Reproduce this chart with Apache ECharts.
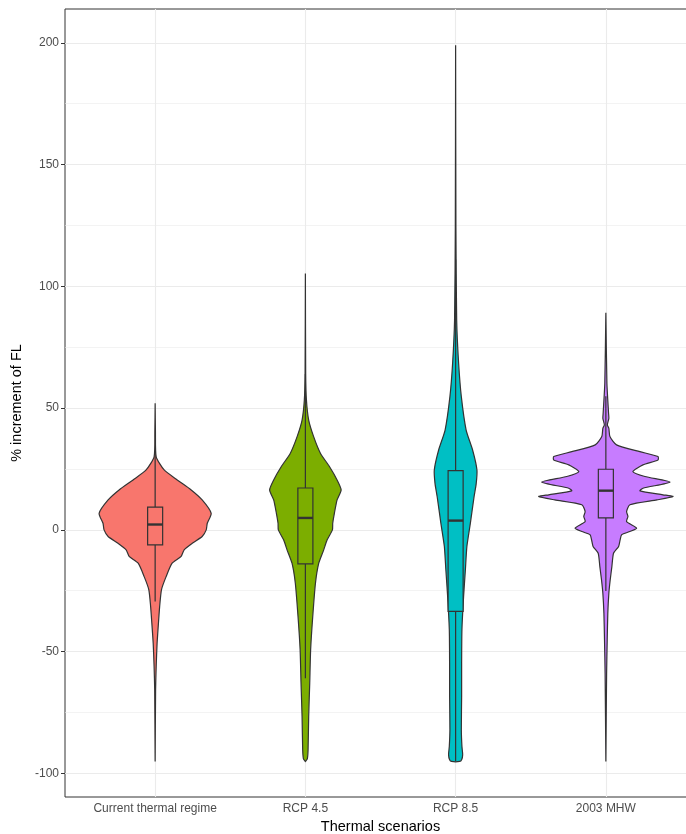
<!DOCTYPE html>
<html>
<head>
<meta charset="utf-8">
<script src="https://cdn.jsdelivr.net/npm/echarts@6/dist/echarts.min.js"></script>
<style>
html,body{margin:0;padding:0;background:#fff;}
#chart{width:686px;height:834px;}
</style>
</head>
<body>
<div id="chart"></div>
<script>
// ---- data ----
const categories = ['Current thermal regime', 'RCP 4.5', 'RCP 8.5', '2003 MHW'];
const fillColors = ['#F8766D', '#7CAE00', '#00BFC4', '#C77CFF'];
const yTicks = [-100, -50, 0, 50, 100, 150, 200];
const yMinorGrid = [-75, -25, 25, 75, 125, 175];

// violin profiles: y levels (top -> bottom) and half-widths (x-axis units)
const currentY  = [52, 40, 30, 24.6, 20.5, 16.4, 12.3, 6.8, 2.7, 0, -2.7, -5.5, -8.2, -10.9, -13.7, -19.2, -24.6, -31.5, -38.3, -46.5, -56, -65.6, -95.1];
const currentW  = [0, 0.002, 0.007, 0.06, 0.147, 0.24, 0.313, 0.373, 0.347, 0.34, 0.313, 0.247, 0.193, 0.173, 0.113, 0.073, 0.042, 0.03, 0.022, 0.013, 0.007, 0.003, 0];

const rcp45Y = [105.3, 64, 53.3, 45.1, 38.3, 31.5, 26, 20.5, 16.4, 12.3, 6.8, 2.7, 0, -4.1, -8.2, -13.7, -21.9, -35.6, -49.2, -62.9, -76.6, -90.3, -94, -95.1];
const rcp45W = [0, 0.002, 0.007, 0.022, 0.055, 0.1, 0.16, 0.211, 0.238, 0.211, 0.193, 0.182, 0.18, 0.145, 0.122, 0.089, 0.067, 0.049, 0.035, 0.029, 0.022, 0.018, 0.013, 0];

const rcp85Y = [199, 124, 86.2, 68.4, 54.7, 41, 32.8, 24.6, 19, 13.7, 2.7, -6.8, -16.4, -27.4, -41, -54.7, -68.4, -82.1, -88.9, -92.3, -94.4, -95.1];
const rcp85W = [0, 0.002, 0.007, 0.02, 0.038, 0.07, 0.113, 0.142, 0.137, 0.123, 0.098, 0.075, 0.065, 0.053, 0.042, 0.04, 0.04, 0.038, 0.042, 0.047, 0.04, 0.027];

const mhwY = [89.2, 60.2, 47.9, 45.8, 43.1, 41.7, 38.3, 34.9, 32.1, 30.1, 28.7, 26.7, 23.9, 21.9, 19.6, 17.1, 16, 14.4, 13.7, 12.3, 10.3, 7.5, 5.5, 3.4, 0.7, -0.7, -2, -4.1, -6.8, -9.6, -15.1, -20.5, -26, -34.2, -45.1, -58.8, -95.1];
const mhwW = [0, 0.007, 0.018, 0.02, 0.01, 0.02, 0.027, 0.071, 0.227, 0.347, 0.347, 0.247, 0.18, 0.26, 0.427, 0.247, 0.227, 0.38, 0.447, 0.34, 0.16, 0.138, 0.147, 0.138, 0.205, 0.16, 0.105, 0.095, 0.085, 0.051, 0.04, 0.029, 0.02, 0.013, 0.009, 0.005, 0];

// box plot stats: [lower whisker, Q1, median, Q3, upper whisker]
const boxStats = [
  [-29.4, -6.2, 2.2, 9.3, 32.5],
  [-60.9, -14, 4.9, 17.2, 64],
  [-95, -33.5, 3.8, 24.3, 111],
  [-25.1, 4.9, 16.1, 24.9, 54.9]
];

const violinY = [currentY, rcp45Y, rcp85Y, mhwY];
const violinW = [currentW, rcp45W, rcp85W, mhwW];

// ---- chart ----
const chart = echarts.init(document.getElementById('chart'), null, {renderer: 'canvas'});
const BOX_HALF = 0.05;
const OUTLINE = '#333333';

function renderGroup(params, api) {
  const i = params.dataIndex;
  const cx = i + 1;
  const ys = violinY[i], ws = violinW[i];
  const right = [], left = [];
  for (let k = 0; k < ys.length; k++) {
    right.push(api.coord([cx + ws[k], ys[k]]));
    left.push(api.coord([cx - ws[k], ys[k]]));
  }
  const pts = right.concat(left.reverse());
  const s = boxStats[i];
  const c = (v) => api.coord([cx, v]);
  const bl = api.coord([cx - BOX_HALF, s[1]]);
  const tr = api.coord([cx + BOX_HALF, s[3]]);
  const mL = api.coord([cx - BOX_HALF, s[2]]);
  const mR = api.coord([cx + BOX_HALF, s[2]]);
  return {
    type: 'group',
    children: [
      { type: 'polygon', shape: { points: pts, smooth: 0.2 },
        style: { fill: fillColors[i], stroke: OUTLINE, lineWidth: 1.2 } },
      { type: 'line', shape: { x1: c(s[0])[0], y1: c(s[0])[1], x2: c(s[1])[0], y2: c(s[1])[1] },
        style: { stroke: OUTLINE, lineWidth: 1.2 } },
      { type: 'line', shape: { x1: c(s[3])[0], y1: c(s[3])[1], x2: c(s[4])[0], y2: c(s[4])[1] },
        style: { stroke: OUTLINE, lineWidth: 1.2 } },
      { type: 'rect', shape: { x: bl[0], y: tr[1], width: tr[0] - bl[0], height: bl[1] - tr[1] },
        style: { fill: fillColors[i], stroke: OUTLINE, lineWidth: 1.2 } },
      { type: 'line', shape: { x1: mL[0], y1: mL[1], x2: mR[0], y2: mR[1] },
        style: { stroke: OUTLINE, lineWidth: 2.4 } }
    ]
  };
}

const gridLineData = []
  .concat(yMinorGrid.map(v => ({ yAxis: v, lineStyle: { width: 0.6 } })))
  .concat(yTicks.map(v => ({ yAxis: v, lineStyle: { width: 1.1 } })))
  .concat([1, 2, 3, 4].map(v => ({ xAxis: v, lineStyle: { width: 1.1 } })));

const option = {
  animation: false,
  backgroundColor: '#ffffff',
  textStyle: { fontFamily: 'Liberation Sans, Arial, sans-serif' },
  grid: { left: 65, top: 9, right: -10, bottom: 37, outerBoundsMode: 'none', containLabel: false,
    show: true, borderColor: '#333333', borderWidth: 1, backgroundColor: 'transparent' },
  xAxis: {
    type: 'value', min: 0.4, max: 4.6,
    name: 'Thermal scenarios', nameLocation: 'middle', nameGap: 22,
    nameTextStyle: { fontSize: 14.5, color: '#000', fontFamily: 'Liberation Sans' },
    axisLine: { show: false },
    axisTick: { show: true, customValues: [1, 2, 3, 4], length: 4, lineStyle: { color: '#333333' } },
    axisLabel: { customValues: [1, 2, 3, 4], color: '#4D4D4D', fontSize: 12, margin: 6,
      formatter: (v) => categories[Math.round(v) - 1] || '' },
    splitLine: { show: false }
  },
  yAxis: {
    type: 'value', min: -109.7, max: 213.9,
    name: '% increment of FL', nameLocation: 'middle', nameGap: 40,
    nameTextStyle: { fontSize: 14.5, color: '#000', fontFamily: 'Liberation Sans' },
    axisLine: { show: false },
    axisTick: { show: true, customValues: yTicks, length: 4, lineStyle: { color: '#333333' } },
    axisLabel: { customValues: yTicks, color: '#4D4D4D', fontSize: 12, margin: 6 },
    splitLine: { show: false }
  },
  series: [
    {
      type: 'line', data: [], silent: true, z: 1,
      markLine: {
        silent: true, symbol: ['none', 'none'], label: { show: false },
        lineStyle: { color: '#EBEBEB', type: 'solid' },
        data: gridLineData, animation: false
      }
    },
    {
      type: 'custom', z: 5,
      renderItem: renderGroup,
      data: categories.map((c, i) => [i + 1, boxStats[i][2]]),
      clip: true
    }
  ]
};
chart.setOption(option);
</script>
</body>
</html>
